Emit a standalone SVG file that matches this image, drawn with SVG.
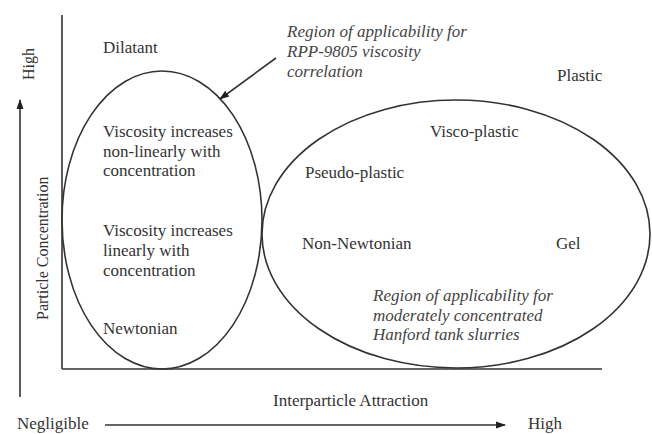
<svg xmlns="http://www.w3.org/2000/svg" width="652" height="434" viewBox="0 0 652 434">
<style>
text{font-family:"Liberation Serif","Times New Roman",serif;font-size:17px;fill:#333}
.it{font-style:italic;fill:#444}
.ln{stroke:#333;stroke-width:1.6;fill:none}
.ell{stroke:#333;stroke-width:1.6;fill:none}
</style>
<defs>
<marker id="ah" viewBox="0 0 10 10" refX="9" refY="5" markerWidth="10" markerHeight="10" markerUnits="userSpaceOnUse" orient="auto">
<path d="M0,1.5 L10,5 L0,8.5 Z" fill="#222"/>
</marker>
</defs>
<rect width="652" height="434" fill="#fff"/>
<g id="axes">
<line class="ln" x1="62" y1="15" x2="62" y2="369"/>
<line class="ln" x1="62" y1="369" x2="602" y2="369"/>
</g>
<g id="left-region">
<ellipse class="ell" cx="162" cy="220" rx="100" ry="149"/>
<text x="103" y="137">Viscosity increases</text>
<text x="103" y="157">non-linearly with</text>
<text x="103" y="176">concentration</text>
<text x="103" y="236">Viscosity increases</text>
<text x="103" y="256">linearly with</text>
<text x="103" y="276">concentration</text>
<text x="103" y="334">Newtonian</text>
</g>
<g id="right-region">
<ellipse class="ell" cx="456" cy="234" rx="194" ry="134"/>
<text x="430" y="137">Visco-plastic</text>
<text x="305" y="178">Pseudo-plastic</text>
<text x="302" y="249">Non-Newtonian</text>
<text x="556" y="249">Gel</text>
<text class="it" x="373" y="301">Region of applicability for</text>
<text class="it" x="373" y="321">moderately concentrated</text>
<text class="it" x="373" y="340">Hanford tank slurries</text>
</g>
<g id="dilatant"><text x="103" y="53">Dilatant</text></g>
<g id="plastic"><text x="557" y="81">Plastic</text></g>
<g id="rpp-label">
<text class="it" x="287" y="37">Region of applicability for</text>
<text class="it" x="287" y="57">RPP-9805 viscosity</text>
<text class="it" x="287" y="77">correlation</text>
</g>
<g id="connectors">
<line class="ln" x1="276" y1="58" x2="220" y2="99" marker-end="url(#ah)"/>
<line class="ln" x1="20" y1="397" x2="20" y2="100" marker-end="url(#ah)"/>
<line class="ln" x1="105" y1="425" x2="505" y2="425" marker-end="url(#ah)"/>
</g>
<g id="axis-labels">
<text transform="translate(34,80) rotate(-90)" style="font-size:16px">High</text>
<text transform="translate(48,320) rotate(-90)" style="font-size:16px">Particle Concentration</text>
<text x="273" y="406">Interparticle Attraction</text>
<text x="17" y="429">Negligible</text>
<text x="528" y="429">High</text>
</g>
</svg>
